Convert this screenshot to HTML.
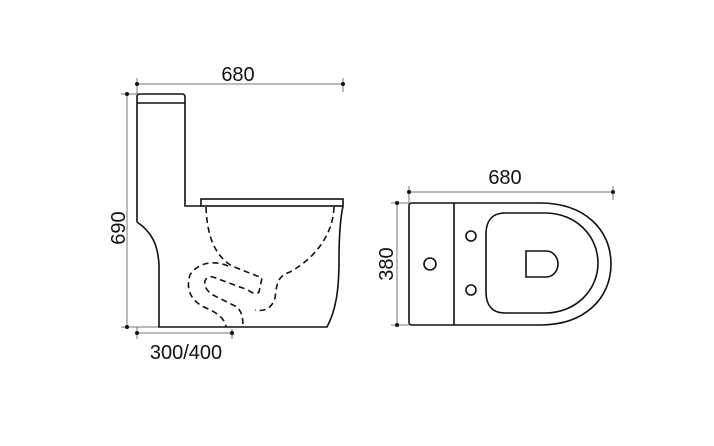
<!DOCTYPE html>
<html><head><meta charset="utf-8"><style>
html,body{margin:0;padding:0;background:#fff;}
svg{display:block;}
text{font-family:"Liberation Sans",sans-serif;font-size:20px;fill:#111;}
</style></head><body>
<svg width="714" height="446" viewBox="0 0 714 446" xmlns="http://www.w3.org/2000/svg">
<g stroke="#777" stroke-width="1" fill="none">
<line x1="137" y1="84" x2="343" y2="84"/>
<line x1="137" y1="78" x2="137" y2="94"/>
<line x1="343" y1="78" x2="343" y2="92"/>
<line x1="127" y1="94" x2="127" y2="327"/>
<line x1="121" y1="94" x2="137" y2="94"/>
<line x1="121" y1="327" x2="159" y2="327"/>
<line x1="137" y1="333" x2="232" y2="333"/>
<line x1="137" y1="327" x2="137" y2="339"/>
<line x1="232" y1="329" x2="232" y2="339"/>
<line x1="409" y1="192" x2="613" y2="192"/>
<line x1="409" y1="186" x2="409" y2="203"/>
<line x1="613" y1="186" x2="613" y2="200"/>
<line x1="397" y1="203" x2="397" y2="325"/>
<line x1="391" y1="203" x2="409" y2="203"/>
<line x1="391" y1="325" x2="409" y2="325"/>
</g>
<g fill="#111">
<circle cx="137" cy="84" r="2"/><circle cx="343" cy="84" r="2"/>
<circle cx="127" cy="94" r="2"/><circle cx="127" cy="327" r="2"/>
<circle cx="137" cy="333" r="2"/><circle cx="232" cy="333" r="2"/>
<circle cx="409" cy="192" r="2"/><circle cx="613" cy="192" r="2"/>
<circle cx="397" cy="203" r="2"/><circle cx="397" cy="325" r="2"/>
</g>
<text x="238" y="81" text-anchor="middle">680</text>
<text x="186" y="359" text-anchor="middle">300/400</text>
<text x="505" y="184" text-anchor="middle">680</text>
<text transform="translate(125,228) rotate(-90)" text-anchor="middle">690</text>
<text transform="translate(393,264) rotate(-90)" text-anchor="middle">380</text>
<g stroke="#111" stroke-width="1.6" fill="none">
<path d="M137,222 L137,97 Q137,94 140,94 L182,94 Q185,94 185,97 L185,206 L201,206"/>
<line x1="137" y1="103" x2="185" y2="103"/>
<path d="M137,222 C152,232 158,245 159,265 L159,327 L327,327 C336,310 339,290 339,260 C339,235 340,220 343,206"/>
<rect x="201" y="199" width="142" height="7"/>
</g>
<g stroke="#111" stroke-width="1.6" fill="none" stroke-dasharray="6,4">
<path d="M206,207 C207,235 214,255 232,266 L262,278 L259,292 C256,295 252,293 248,290 L213,277 C203,275 201,288 213,295 L237,307 C242,312 243,318 243,327"/>
<path d="M228,266 C215,260 198,262 190,275 C185,290 192,302 206,308 C220,314 225,320 226,327"/>
<path d="M334,207 C333,235 315,258 290,272 C278,276 277,282 275,298 C272,308 265,312 255,310"/>
</g>
<g stroke="#111" stroke-width="1.6" fill="none">
<path d="M412,203 L540,203 C585,203 611,230 611,264 C611,298 585,325 540,325 L412,325 Q409,325 409,322 L409,206 Q409,203 412,203 Z"/>
<line x1="454" y1="203" x2="454" y2="325"/>
<circle cx="430" cy="264" r="6"/>
<circle cx="471" cy="236" r="5"/>
<circle cx="471" cy="290" r="5"/>
<path d="M505,213 L545,213 C576,213 598,236 598,263 C598,290 576,313 545,313 L505,313 C492,313 486,305 486,292 L486,234 C486,221 492,213 505,213 Z"/>
<path d="M526,251 L546,251 C553,251 558,257 558,264 C558,271 553,277 546,277 L526,277 Z"/>
</g>
</svg>
</body></html>
